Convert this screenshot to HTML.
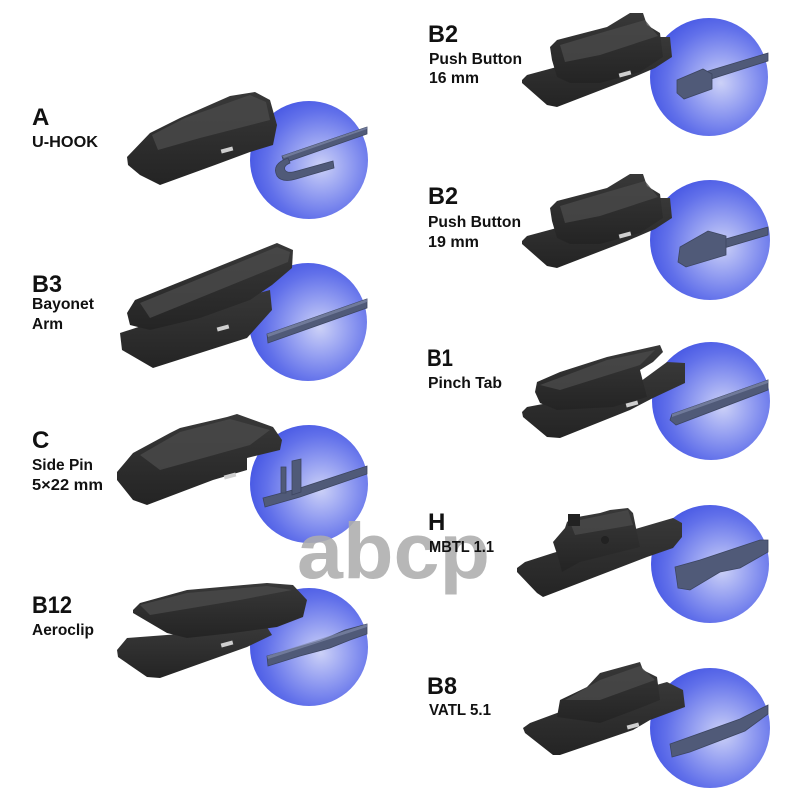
<!DOCTYPE html>
<html><head><meta charset="utf-8"><style>
html,body{margin:0;padding:0;background:#fff;}
svg{display:block;}
.big{font-family:"Liberation Sans",sans-serif;font-weight:bold;font-size:24px;fill:#111;}
.sm{font-family:"Liberation Sans",sans-serif;font-weight:bold;font-size:15.5px;fill:#111;}
</style></head><body>
<svg width="800" height="800" viewBox="0 0 800 800" xmlns="http://www.w3.org/2000/svg">
<defs>
<radialGradient id="cg" cx="0.6" cy="0.55" r="0.62">
<stop offset="0" stop-color="#ccd1f7"/>
<stop offset="0.35" stop-color="#9aa4f2"/>
<stop offset="0.75" stop-color="#6170ea"/>
<stop offset="1" stop-color="#4657e4"/>
</radialGradient>
<linearGradient id="ag" x1="0" y1="0" x2="0" y2="1">
<stop offset="0" stop-color="#383838"/>
<stop offset="1" stop-color="#242424"/>
</linearGradient>
</defs>

<!-- circles -->
<circle cx="309" cy="160" r="59" fill="url(#cg)"/>
<circle cx="308" cy="322" r="59" fill="url(#cg)"/>
<circle cx="309" cy="484" r="59" fill="url(#cg)"/>
<circle cx="309" cy="647" r="59" fill="url(#cg)"/>
<circle cx="709" cy="77" r="59" fill="url(#cg)"/>
<circle cx="710" cy="240" r="60" fill="url(#cg)"/>
<circle cx="711" cy="401" r="59" fill="url(#cg)"/>
<circle cx="710" cy="564" r="59" fill="url(#cg)"/>
<circle cx="710" cy="728" r="60" fill="url(#cg)"/>

<!-- blades -->
<g fill="#505a78" stroke="#3c4560" stroke-width="0.8">
<polygon points="282,156 367,127 367,134 284,163"/>
<path d="M288,158 Q271,164 277,176 Q282,183 296,179 L334,168 L333,161 L297,171 Q287,174 285,170 Q283,166 290,163 Z"/>
<polygon points="267,334 367,299 367,308 268,343"/>
<polygon points="263,498 300,488 367,466 367,474 300,497 265,507"/>
<rect x="281" y="467" width="5" height="26"/>
<polygon points="292,461 301,459 301,492 292,495"/>
<polygon points="267,656 320,641 345,630 367,624 367,634 350,640 330,648 300,656 268,666"/>
<polygon points="705,72 768,53 768,61 708,80"/>
<polygon points="677,80 703,69 712,74 712,89 684,99 677,93"/>
<polygon points="722,240 768,227 768,235 724,248"/>
<polygon points="680,247 708,231 726,236 726,255 686,267 678,262"/>
<polygon points="672,414 768,380 768,390 676,425 670,420"/>
<polygon points="675,567 700,560 760,540 768,540 768,552 740,568 720,572 690,590 678,588"/>
<polygon points="670,744 740,719 768,705 768,714 745,731 690,752 672,757"/>
</g>
<g fill="#7e88a8" opacity="0.7">
<polygon points="282,156 367,127 367,129 284,158"/>
<polygon points="267,334 367,299 367,302 268,337"/>
<polygon points="267,656 367,624 367,627 268,659"/>
<polygon points="672,414 768,380 768,383 672,417"/>
</g>

<!-- adapters -->
<g fill="url(#ag)">
<path d="M127,157 L150,133 L180,118 L230,96 L255,92 L270,100 L277,125 L273,145 L250,152 L215,165 L160,185 L140,175 L128,165 Z"/>
<path d="M120,333 L160,320 L270,290 L272,310 L247,338 L153,368 L122,350 Z"/>
<path d="M127,313 L135,300 L277,243 L293,250 L292,268 L272,285 L250,300 L200,318 L150,330 L130,325 Z"/>
<path d="M117,472 L133,453 L170,433 L180,428 L227,417 L237,414 L273,427 L282,440 L280,450 L247,458 L247,470 L213,480 L147,505 L133,500 L117,480 Z"/>
<path d="M117,650 L127,638 L193,633 L267,627 L272,635 L247,647 L160,678 L147,677 L118,657 Z"/>
<path d="M133,610 L140,603 L187,590 L267,583 L293,585 L307,600 L303,617 L277,627 L233,633 L187,638 L167,633 L133,613 Z"/>
<path d="M522,80 L527,75 L553,68 L653,37 L670,37 L672,57 L655,68 L627,80 L557,107 L547,105 L522,83 Z"/>
<path d="M550,47 L557,40 L607,27 L630,13 L643,13 L647,25 L660,33 L663,57 L640,72 L600,83 L570,83 L557,77 L552,60 Z"/>
<path d="M522,241 L527,236 L553,229 L653,198 L670,198 L672,218 L655,229 L627,241 L557,268 L547,266 L522,244 Z"/>
<path d="M550,208 L557,201 L607,188 L630,174 L643,174 L647,186 L660,194 L663,218 L640,233 L600,244 L570,244 L557,238 L552,221 Z"/>
<path d="M522,412 L527,407 L633,387 L667,362 L685,363 L685,383 L653,398 L630,410 L560,438 L547,437 L523,417 Z"/>
<path d="M535,392 L537,382 L560,372 L607,357 L660,345 L663,352 L653,362 L640,370 L647,397 L613,407 L557,410 L540,403 Z"/>
<path d="M517,568 L525,562 L553,553 L673,518 L682,523 L682,537 L673,548 L647,557 L543,597 L537,593 L517,572 Z"/>
<path d="M553,542 L565,528 L567,522 L572,518 L600,513 L610,510 L628,508 L633,513 L637,533 L640,547 L600,557 L580,562 L562,572 L558,557 Z"/>
<path d="M523,728 L530,723 L557,713 L667,682 L683,690 L685,707 L650,720 L633,730 L560,755 L553,755 L525,733 Z"/>
<path d="M557,717 L560,700 L587,687 L600,673 L640,662 L643,670 L657,677 L660,700 L640,708 L600,723 Z"/>
</g>

<g fill="#4a4a4a" opacity="0.8">
<polygon points="152,135 185,118 250,95 266,102 270,120 200,138 158,150"/>
<polygon points="140,303 277,247 290,252 288,262 150,318"/>
<polygon points="140,455 180,432 230,419 270,430 250,445 160,470"/>
<polygon points="140,605 187,593 267,586 292,590 240,600 150,615"/>
<polygon points="560,45 607,31 645,20 658,36 600,55 565,62"/>
<polygon points="560,206 607,192 645,181 658,197 600,216 565,223"/>
<polygon points="540,385 607,360 655,350 640,365 560,390"/>
<polygon points="570,522 628,510 633,525 575,535"/>
<polygon points="565,700 600,680 640,666 655,680 600,700"/>
</g>
<g fill="#222">
<rect x="568" y="514" width="12" height="12"/>
<circle cx="605" cy="540" r="4"/>
</g>
<g fill="#cfcfcf">
<rect x="221" y="148" width="12" height="4" transform="rotate(-15 227 150)"/>
<rect x="217" y="326" width="12" height="4" transform="rotate(-15 223 328)"/>
<rect x="224" y="474" width="12" height="4" transform="rotate(-15 230 476)"/>
<rect x="221" y="642" width="12" height="4" transform="rotate(-15 227 644)"/>
<rect x="619" y="72" width="12" height="4" transform="rotate(-15 625 74)"/>
<rect x="619" y="233" width="12" height="4" transform="rotate(-15 625 235)"/>
<rect x="626" y="402" width="12" height="4" transform="rotate(-15 632 404)"/>
<rect x="627" y="724" width="12" height="4" transform="rotate(-15 633 726)"/>
</g>

<!-- watermark (below labels) -->
<text x="297" y="578" textLength="193" lengthAdjust="spacingAndGlyphs" font-family="Liberation Sans, sans-serif" font-weight="bold" font-size="79" fill="#adadad" fill-opacity="0.88">abcp</text>

<!-- labels left -->
<text class="big" x="32" y="125">A</text>
<text class="sm" x="32" y="147" textLength="66" lengthAdjust="spacingAndGlyphs">U-HOOK</text>
<text class="big" x="32" y="292" textLength="30" lengthAdjust="spacingAndGlyphs">B3</text>
<text class="sm" x="32" y="309" textLength="62" lengthAdjust="spacingAndGlyphs">Bayonet</text>
<text class="sm" x="32" y="329" textLength="31" lengthAdjust="spacingAndGlyphs">Arm</text>
<text class="big" x="32" y="448">C</text>
<text class="sm" x="32" y="470" textLength="61" lengthAdjust="spacingAndGlyphs">Side Pin</text>
<text class="sm" x="32" y="490" textLength="71" lengthAdjust="spacingAndGlyphs">5×22 mm</text>
<text class="big" x="32" y="613" textLength="40" lengthAdjust="spacingAndGlyphs">B12</text>
<text class="sm" x="32" y="635" textLength="62" lengthAdjust="spacingAndGlyphs">Aeroclip</text>

<!-- labels right -->
<text class="big" x="428" y="42" textLength="30" lengthAdjust="spacingAndGlyphs">B2</text>
<text class="sm" x="429" y="64" textLength="93" lengthAdjust="spacingAndGlyphs">Push Button</text>
<text class="sm" x="429" y="83" textLength="50" lengthAdjust="spacingAndGlyphs">16 mm</text>
<text class="big" x="428" y="204" textLength="30" lengthAdjust="spacingAndGlyphs">B2</text>
<text class="sm" x="428" y="227" textLength="93" lengthAdjust="spacingAndGlyphs">Push Button</text>
<text class="sm" x="428" y="247" textLength="51" lengthAdjust="spacingAndGlyphs">19 mm</text>
<text class="big" x="427" y="366" textLength="26" lengthAdjust="spacingAndGlyphs">B1</text>
<text class="sm" x="428" y="388" textLength="74" lengthAdjust="spacingAndGlyphs">Pinch Tab</text>
<text class="big" x="428" y="530">H</text>
<text class="sm" x="429" y="552" textLength="65" lengthAdjust="spacingAndGlyphs">MBTL 1.1</text>
<text class="big" x="427" y="694" textLength="30" lengthAdjust="spacingAndGlyphs">B8</text>
<text class="sm" x="429" y="715" textLength="62" lengthAdjust="spacingAndGlyphs">VATL 5.1</text>
</svg>
</body></html>
